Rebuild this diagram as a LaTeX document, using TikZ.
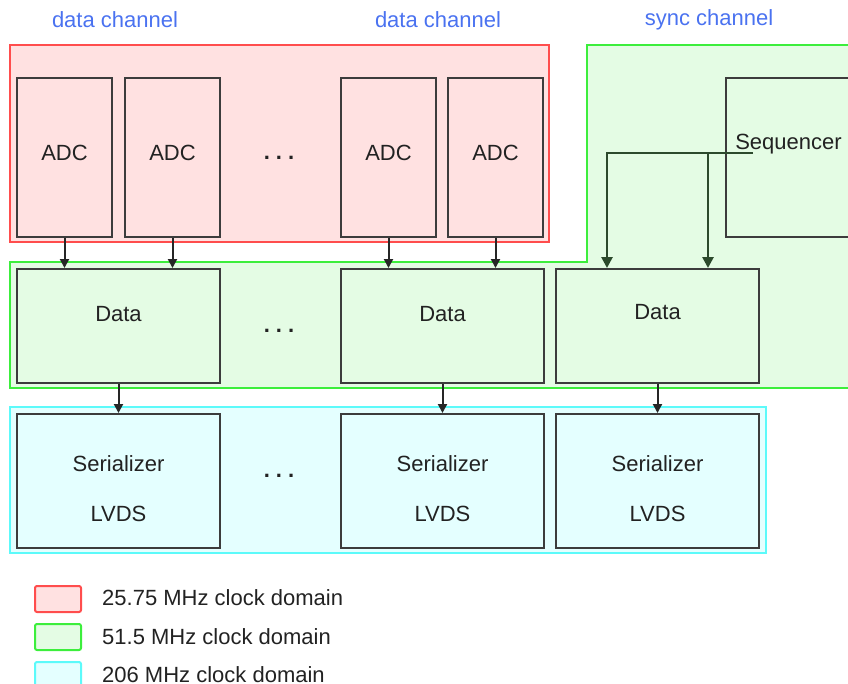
\documentclass[tikz,border=0pt]{standalone}
\usepackage{fontspec}
\setmainfont{Liberation Sans}
\usetikzlibrary{arrows.meta,calc}
\definecolor{redfill}{HTML}{FFE1E1}
\definecolor{redline}{HTML}{FF4D4D}
\definecolor{grnfill}{HTML}{E4FCE4}
\definecolor{grnline}{HTML}{3CEE3C}
\definecolor{cyfill}{HTML}{E4FFFF}
\definecolor{cyline}{HTML}{5CFAFA}
\definecolor{boxline}{HTML}{3C3C3C}
\definecolor{txt}{HTML}{222222}
\definecolor{chan}{HTML}{4A72F0}
\definecolor{syncline}{HTML}{2C4A2C}
\tikzset{
  every node/.style={font=\fontsize{22}{26}\selectfont, text=txt, inner sep=0pt},
  region/.style={line width=2pt},
  redreg/.style={region, draw=redline, fill=redfill},
  grnreg/.style={region, draw=grnline, fill=grnfill},
  cyreg/.style={region, draw=cyline, fill=cyfill},
  blk/.style={draw=boxline, line width=2pt, rectangle, anchor=north west},
  adcbox/.style={blk, minimum width=95pt, minimum height=159pt},
  databox/.style={blk, minimum width=203pt, minimum height=114pt},
  serbox/.style={blk, minimum width=203pt, minimum height=134pt},
  seqbox/.style={blk, minimum width=125pt, minimum height=159pt},
  chanlabel/.style={text=chan},
  arr/.style={draw=black!85, line width=2pt, -{Triangle[width=9pt,length=9pt]}},
  syncarr/.style={draw=syncline, line width=2.6pt, -{Triangle[width=11pt,length=11pt]}},
  legbox/.style={line width=2pt, rounded corners=2pt, minimum width=46pt, minimum height=26pt, anchor=north west, rectangle},
  dotrow/.style={font=\fontsize{22}{26}\bfseries}
}
\newcommand{\mydots}{.\hspace{6pt}.\hspace{6pt}.}
\begin{document}
\begin{tikzpicture}[x=1pt,y=-1pt]
\useasboundingbox (0,0) rectangle (848,683);
% regions
\draw[redreg] (10,45) rectangle (549,242);
\draw[grnreg] (10,262) -- (587,262) -- (587,45) -- (860,45) -- (860,388) -- (10,388) -- cycle;
\draw[cyreg] (10,407) rectangle (766,553);
% channel labels
\node[chanlabel] (lc1) at (115,20) {data channel};
\node[chanlabel] (lc2) at (438,20) {data channel};
\node[chanlabel] (lc3) at (709,20) {sync channel};
% ADC boxes
\node[adcbox, fill=redfill, label={[yshift=4.5pt]center:ADC}] (a1) at (16,77) {};
\node[adcbox, fill=redfill, label={[yshift=4.5pt]center:ADC}] (a2) at (124,77) {};
\node[adcbox, fill=redfill, label={[yshift=4.5pt]center:ADC}] (a3) at (340,77) {};
\node[adcbox, fill=redfill, label={[yshift=4.5pt]center:ADC}] (a4) at (447,77) {};
\node[dotrow] (dt1) at (279,158) {\mydots};
% Sequencer
\node[seqbox, fill=grnfill, label={[yshift=13.5pt]center:Sequencer}] (seq) at (725,77) {};
% Data boxes
\node[databox, fill=grnfill, label={[yshift=12pt]center:Data}] (d1) at (16,268) {};
\node[databox, fill=grnfill, label={[yshift=12pt]center:Data}] (d2) at (340,268) {};
\node[databox, fill=grnfill, label={[yshift=14pt]center:Data}] (d3) at (555,268) {};
\node[dotrow] (dt2) at (279,331) {\mydots};
% Serializer boxes
\node[serbox, fill=cyfill, label={[yshift=17pt]center:Serializer}, label={[yshift=-33pt]center:LVDS}] (s1) at (16,413) {};
\node[serbox, fill=cyfill, label={[yshift=17pt]center:Serializer}, label={[yshift=-33pt]center:LVDS}] (s2) at (340,413) {};
\node[serbox, fill=cyfill, label={[yshift=17pt]center:Serializer}, label={[yshift=-33pt]center:LVDS}] (s3) at (555,413) {};
\node[dotrow] (dt3) at (279,476) {\mydots};
% arrows ADC -> Data
\draw[arr] (a1.south) -- (a1.south |- d1.north);
\draw[arr] (a2.south) -- (a2.south |- d1.north);
\draw[arr] (a3.south) -- (a3.south |- d2.north);
\draw[arr] (a4.south) -- (a4.south |- d2.north);
% arrows Data -> Serializer
\draw[arr] (d1.south) -- (s1.north);
\draw[arr] (d2.south) -- (s2.north);
\draw[arr] (d3.south) -- (s3.north);
% sync lines
\coordinate (so) at (753,153);
\coordinate (ja) at (607,153);
\coordinate (jb) at (708,153);
\draw[syncarr] (so) -- (ja) -- (ja |- d3.north);
\draw[syncarr] (jb) -- (jb |- d3.north);
% legend
\node[legbox, draw=redline, fill=redfill] (l1) at (34,585) {};
\node[legbox, draw=grnline, fill=grnfill] (l2) at (34,623) {};
\node[legbox, draw=cyline, fill=cyfill] (l3) at (34,661) {};
\node[anchor=west] (t1) at (102,598) {25.75 MHz clock domain};
\node[anchor=west] (t2) at (102,637) {51.5 MHz clock domain};
\node[anchor=west] (t3) at (102,675) {206 MHz clock domain};
\end{tikzpicture}
\end{document}
